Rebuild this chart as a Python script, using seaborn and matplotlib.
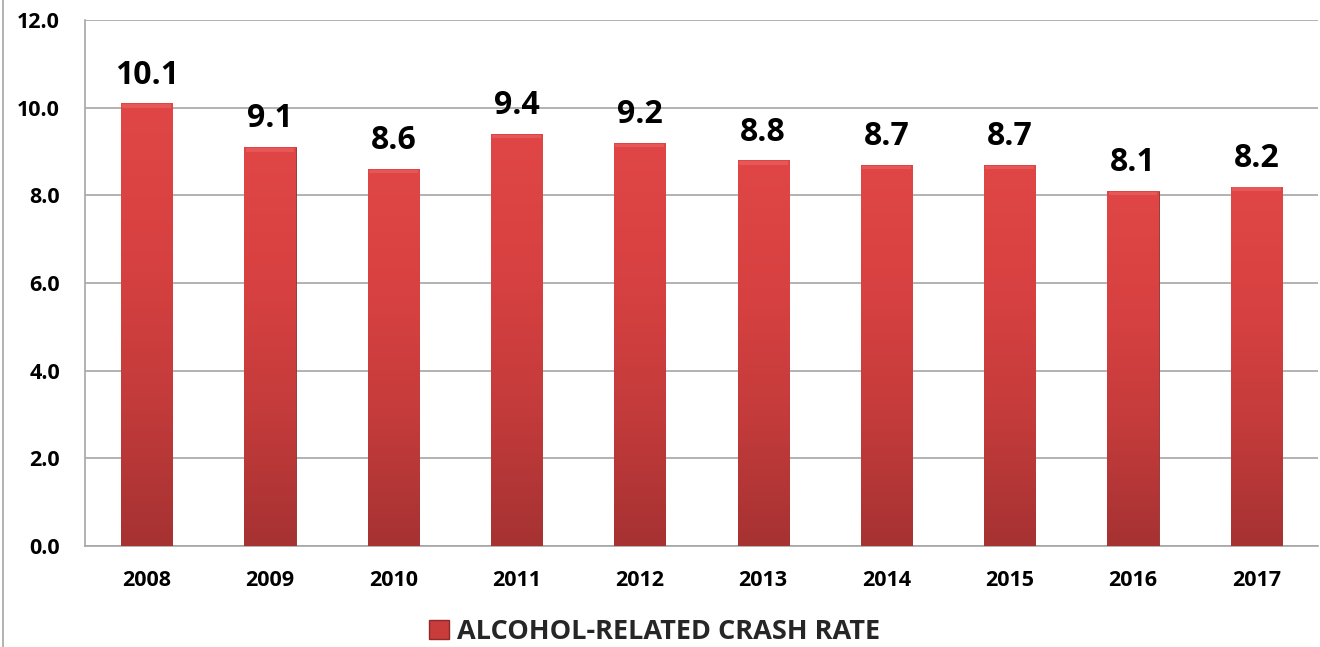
import matplotlib
matplotlib.use("Agg")
import matplotlib.pyplot as plt
import matplotlib.patches as mpatches
from matplotlib.colors import LinearSegmentedColormap
import numpy as np
import pandas as pd
import seaborn as sns

# --- data ---
years = ["2008", "2009", "2010", "2011", "2012", "2013", "2014", "2015", "2016", "2017"]
crash_rate = [10.1, 9.1, 8.6, 9.4, 9.2, 8.8, 8.7, 8.7, 8.1, 8.2]
series_name = "ALCOHOL-RELATED CRASH RATE"

df = pd.DataFrame({"year": years, "rate": crash_rate})

sns.set_theme(style="white")
plt.rcParams["font.family"] = ["Open Sans", "DejaVu Sans"]
plt.rcParams["font.weight"] = "bold"

fig = plt.figure(figsize=(13.2, 6.47), dpi=100)
ax = fig.add_axes([85 / 1320, 1 - 546 / 647, 1233 / 1320, 526 / 647])

ax = sns.barplot(data=df, x="year", y="rate", color="#C83C3C", width=0.415,
                 edgecolor="#8E2A2A", linewidth=0.6, ax=ax, zorder=3)

# gradient fill for each bar (light red top, darker bottom)
cmap = LinearSegmentedColormap.from_list("barred", ["#A63232", "#C43B3B", "#D84141", "#E04646"])
grad = np.linspace(0, 1, 256).reshape(-1, 1)
for bar in ax.patches:
    x0, y0 = bar.get_x(), bar.get_y()
    w, h = bar.get_width(), bar.get_height()
    im = ax.imshow(grad, cmap=cmap, aspect="auto", origin="lower",
                   extent=[x0, x0 + w, y0, y0 + h], zorder=3.5)
    im.set_clip_path(bar)
    # soft bevel highlight on top edge
    ax.add_patch(mpatches.Rectangle((x0 + 0.01, y0 + h - 0.1), w - 0.02, 0.08, facecolor="#F07070",
                                    edgecolor="none", zorder=3.6, alpha=0.45))
    ax.text(x0 + w / 2, h + 0.45, f"{h:.1f}", ha="center", va="baseline",
            fontsize=23, fontweight="bold", color="black", zorder=5)

ax.set_xlim(-0.5, len(years) - 0.5)
ax.set_ylim(0, 12)
ax.set_yticks(np.arange(0, 12.1, 2))
ax.set_yticklabels([f"{v:.1f}" for v in np.arange(0, 12.1, 2)])
ax.yaxis.grid(True, color="#A6A6A6", linewidth=1.2, zorder=0)
ax.set_axisbelow(True)
ax.set_xlabel("")
ax.set_ylabel("")
ax.tick_params(axis="both", labelsize=15.5, length=0)
ax.tick_params(axis="x", pad=17)
ax.tick_params(axis="y", pad=18)
for lab in ax.get_xticklabels() + ax.get_yticklabels():
    lab.set_fontweight("bold")
    lab.set_color("black")

for side in ["top", "right"]:
    ax.spines[side].set_visible(False)
for side in ["left", "bottom"]:
    ax.spines[side].set_color("#A6A6A6")
    ax.spines[side].set_linewidth(1.2)

# left frame line of the chart area
fig.add_artist(plt.Line2D([0.002, 0.002], [0, 1], transform=fig.transFigure,
                          color="#A6A6A6", linewidth=1.2))

handle = mpatches.Patch(facecolor="#C83C3C", edgecolor="#8E2A2A", label=series_name)
fig.legend(handles=[handle], loc="center", bbox_to_anchor=(0.496, 1 - 632 / 647),
           frameon=False, prop={"size": 19.5, "weight": "bold"},
           handlelength=0.75, handleheight=0.75, handletextpad=0.3)

fig.savefig("out.png", dpi=100)
